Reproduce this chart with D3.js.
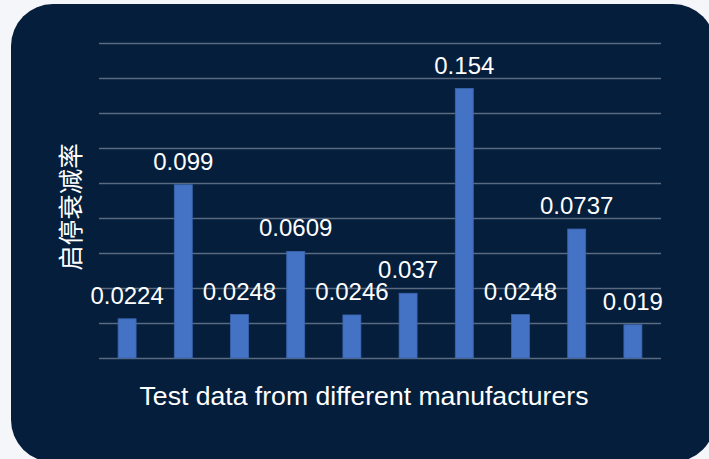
<!DOCTYPE html>
<meta charset="utf-8">
<head>
  <title>启停衰减率</title>
</head>
<style>
  html, body { margin: 0; padding: 0; background: #f5f6fa; }
  svg { display: block; }
  text { font-family: "Liberation Sans", Arial, sans-serif; fill: #ffffff; }
</style>
<body>
  <svg width="709" height="459"></svg>

  <script src="https://cdnjs.cloudflare.com/ajax/libs/d3/7.8.5/d3.min.js"></script>
  <script>
  var manufacturers = ['A', 'B', 'C', 'D', 'E', 'F', 'G', 'H', 'I', 'J'];
  var rates = [0.0224, 0.099, 0.0248, 0.0609, 0.0246, 0.037, 0.154, 0.0248, 0.0737, 0.019];
  var labels = ['0.0224', '0.099', '0.0248', '0.0609', '0.0246', '0.037', '0.154', '0.0248', '0.0737', '0.019'];
  var yTicks = [0, 0.02, 0.04, 0.06, 0.08, 0.1, 0.12, 0.14, 0.16, 0.18];

  var svg = d3.select('svg');

  // dark card
  svg.append('rect')
    .attr('x', 11).attr('y', 4)
    .attr('width', 704).attr('height', 458)
    .attr('rx', 42).attr('ry', 42)
    .attr('fill', '#041e3c');

  var plotLeft = 99, plotRight = 661, plotTop = 43, plotBottom = 358;

  var x = d3.scaleBand()
    .domain(manufacturers)
    .range([plotLeft, plotRight])
    .paddingInner(0.68)
    .paddingOuter(0.34);

  var y = d3.scaleLinear()
    .domain([0, 0.18])
    .range([plotBottom, plotTop]);

  var g = svg.append('g');

  // gridlines
  g.selectAll('line.grid')
    .data(yTicks)
    .enter()
    .append('line')
    .attr('class', 'grid')
    .attr('x1', plotLeft).attr('x2', plotRight)
    .attr('y1', function(d) { return Math.round(y(d)) + 0.5; })
    .attr('y2', function(d) { return Math.round(y(d)) + 0.5; })
    .attr('stroke', '#5a6a80')
    .attr('stroke-width', 1.5);

  // bars
  g.selectAll('rect.bar')
    .data(rates)
    .enter()
    .append('rect')
    .attr('class', 'bar')
    .attr('x', function(d, i) { return x(manufacturers[i]); })
    .attr('width', x.bandwidth())
    .attr('y', function(d) { return y(d); })
    .attr('height', function(d) { return plotBottom - y(d); })
    .attr('fill', '#4472c4')
    .attr('stroke', '#3a64ae')
    .attr('stroke-width', 0.8);

  // value labels
  g.selectAll('text.val')
    .data(rates)
    .enter()
    .append('text')
    .attr('class', 'val')
    .attr('x', function(d, i) { return x(manufacturers[i]) + x.bandwidth() / 2; })
    .attr('y', function(d) { return y(d) - 15; })
    .attr('text-anchor', 'middle')
    .style('font-size', '24px')
    .text(function(d, i) { return labels[i]; });

  // axis titles
  svg.append('text')
    .attr('x', 364).attr('y', 405)
    .attr('text-anchor', 'middle')
    .style('font-size', '26.6px')
    .text('Test data from different manufacturers');

  svg.append('text')
    .attr('transform', 'translate(80, 207) rotate(-90)')
    .attr('text-anchor', 'middle')
    .style('font-family', '"Noto Sans CJK SC", sans-serif')
    .style('font-size', '25.5px')
    .text('启停衰减率');
  </script>
</body>
</html>
